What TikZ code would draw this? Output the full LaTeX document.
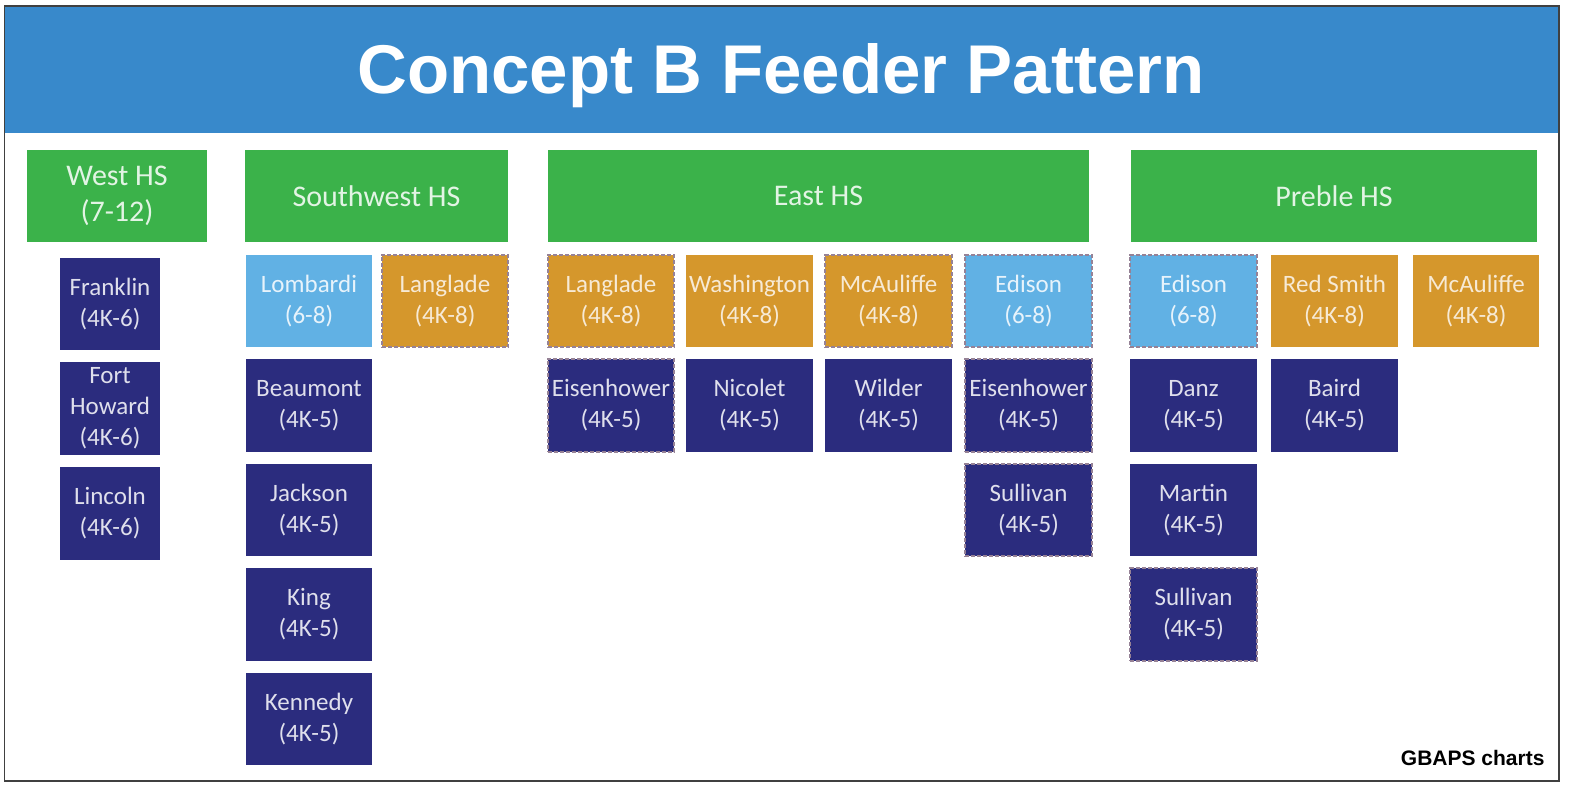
\documentclass[tikz,border=0pt]{standalone}
\usepackage{fontspec}
\setmainfont{Carlito}
\newfontfamily\titlefont{Liberation Sans}
\usetikzlibrary{positioning}
\definecolor{headblue}{RGB}{56,137,203}
\definecolor{hsgreen}{RGB}{59,178,74}
\definecolor{elemnavy}{RGB}{43,44,126}
\definecolor{midblue}{RGB}{97,177,228}
\definecolor{kgold}{RGB}{213,151,44}
\definecolor{dashgray}{RGB}{150,130,150}
\tikzset{
  school/.style={rectangle, inner sep=0pt, minimum width=127, minimum height=93,
    align=center, font=\fontsize{25bp}{31bp}\selectfont},
  elem/.style={school, fill=elemnavy, text=white!85!elemnavy},
  middle/.style={school, fill=midblue, text=white!85!midblue},
  kmiddle/.style={school, fill=kgold, text=white!80!kgold},
  shared/.style={draw=dashgray, dash pattern=on 4bp off 2bp, line width=2bp},
  highschool/.style={rectangle, inner sep=0pt, minimum height=92, fill=hsgreen,
    text=white!85!hsgreen, align=center, font=\fontsize{30bp}{36bp}\selectfont}
}
\begin{document}
\begin{tikzpicture}[x=1bp, y=-1bp]
			%%%%% START %%%%%
			\useasboundingbox (0, 0) rectangle (1569, 785);
			
			\fill[headblue] (5, 7) rectangle (1558, 133);
			\node[anchor=base, text=white, font=\titlefont\bfseries\fontsize{69bp}{80bp}\selectfont] (title) at (781, 93) {Concept B Feeder Pattern};
			
			% high schools
			\node[highschool, minimum width=180] (west) at (117, 196) {West HS\\(7-12)};
			\node[highschool, minimum width=263] (southwest) at (376.5, 196) {Southwest HS};
			\node[highschool, minimum width=543] (east) at (818.5, 196) {East HS};
			\node[highschool, minimum width=408] (preble) at (1334, 196) {Preble HS};
			
			% west
			\node[elem, minimum width=100] (franklin) at (110, 304) {Franklin\\(4K-6)};
			\node[elem, minimum width=100] (forthoward) at (110, 408.5) {Fort\\Howard\\(4K-6)};
			\node[elem, minimum width=100] (lincoln) at (110, 513.5) {Lincoln\\(4K-6)};
			
			% southwest
			\node[middle] (lombardi) at (309, 301) {Lombardi\\(6-8)};
			\node[kmiddle, shared] (langladesw) at (445, 301) {Langlade\\(4K-8)};
			\node[elem] (beaumont) at (309, 405.5) {Beaumont\\(4K-5)};
			\node[elem] (jackson) at (309, 510) {Jackson\\(4K-5)};
			\node[elem] (king) at (309, 614.5) {King\\(4K-5)};
			\node[elem] (kennedy) at (309, 719) {Kennedy\\(4K-5)};
			
			% east
			\node[kmiddle, shared] (langladeeast) at (611, 301) {Langlade\\(4K-8)};
			\node[kmiddle] (washington) at (749.5, 301) {Washington\\(4K-8)};
			\node[kmiddle, shared] (mcauliffeeast) at (888.5, 301) {McAuliffe\\(4K-8)};
			\node[middle, shared] (edisoneast) at (1028.5, 301) {Edison\\(6-8)};
			\node[elem, shared] (eisenhowera) at (611, 405.5) {Eisenhower\\(4K-5)};
			\node[elem] (nicolet) at (749.5, 405.5) {Nicolet\\(4K-5)};
			\node[elem] (wilder) at (888.5, 405.5) {Wilder\\(4K-5)};
			\node[elem, shared] (eisenhowerb) at (1028.5, 405.5) {Eisenhower\\(4K-5)};
			\node[elem, shared] (sullivaneast) at (1028.5, 510) {Sullivan\\(4K-5)};
			
			% preble
			\node[middle, shared] (edisonpreble) at (1193.5, 301) {Edison\\(6-8)};
			\node[kmiddle] (redsmith) at (1334.5, 301) {Red Smith\\(4K-8)};
			\node[kmiddle] (mcauliffepreble) at (1476, 301) {McAuliffe\\(4K-8)};
			\node[elem] (danz) at (1193.5, 405.5) {Danz\\(4K-5)};
			\node[elem] (baird) at (1334.5, 405.5) {Baird\\(4K-5)};
			\node[elem] (martin) at (1193.5, 510) {Martin\\(4K-5)};
			\node[elem, shared] (sullivanpreble) at (1193.5, 614.5) {Sullivan\\(4K-5)};
			
			\node[anchor=base east, font=\titlefont\bfseries\fontsize{21bp}{24bp}\selectfont] (credit) at (1548, 765) {GBAPS charts};
			
			\draw[line width=1.5, black!75] (4.5, 6) rectangle (1559, 781);
			%%%%% END %%%%%
\end{tikzpicture}
\end{document}
